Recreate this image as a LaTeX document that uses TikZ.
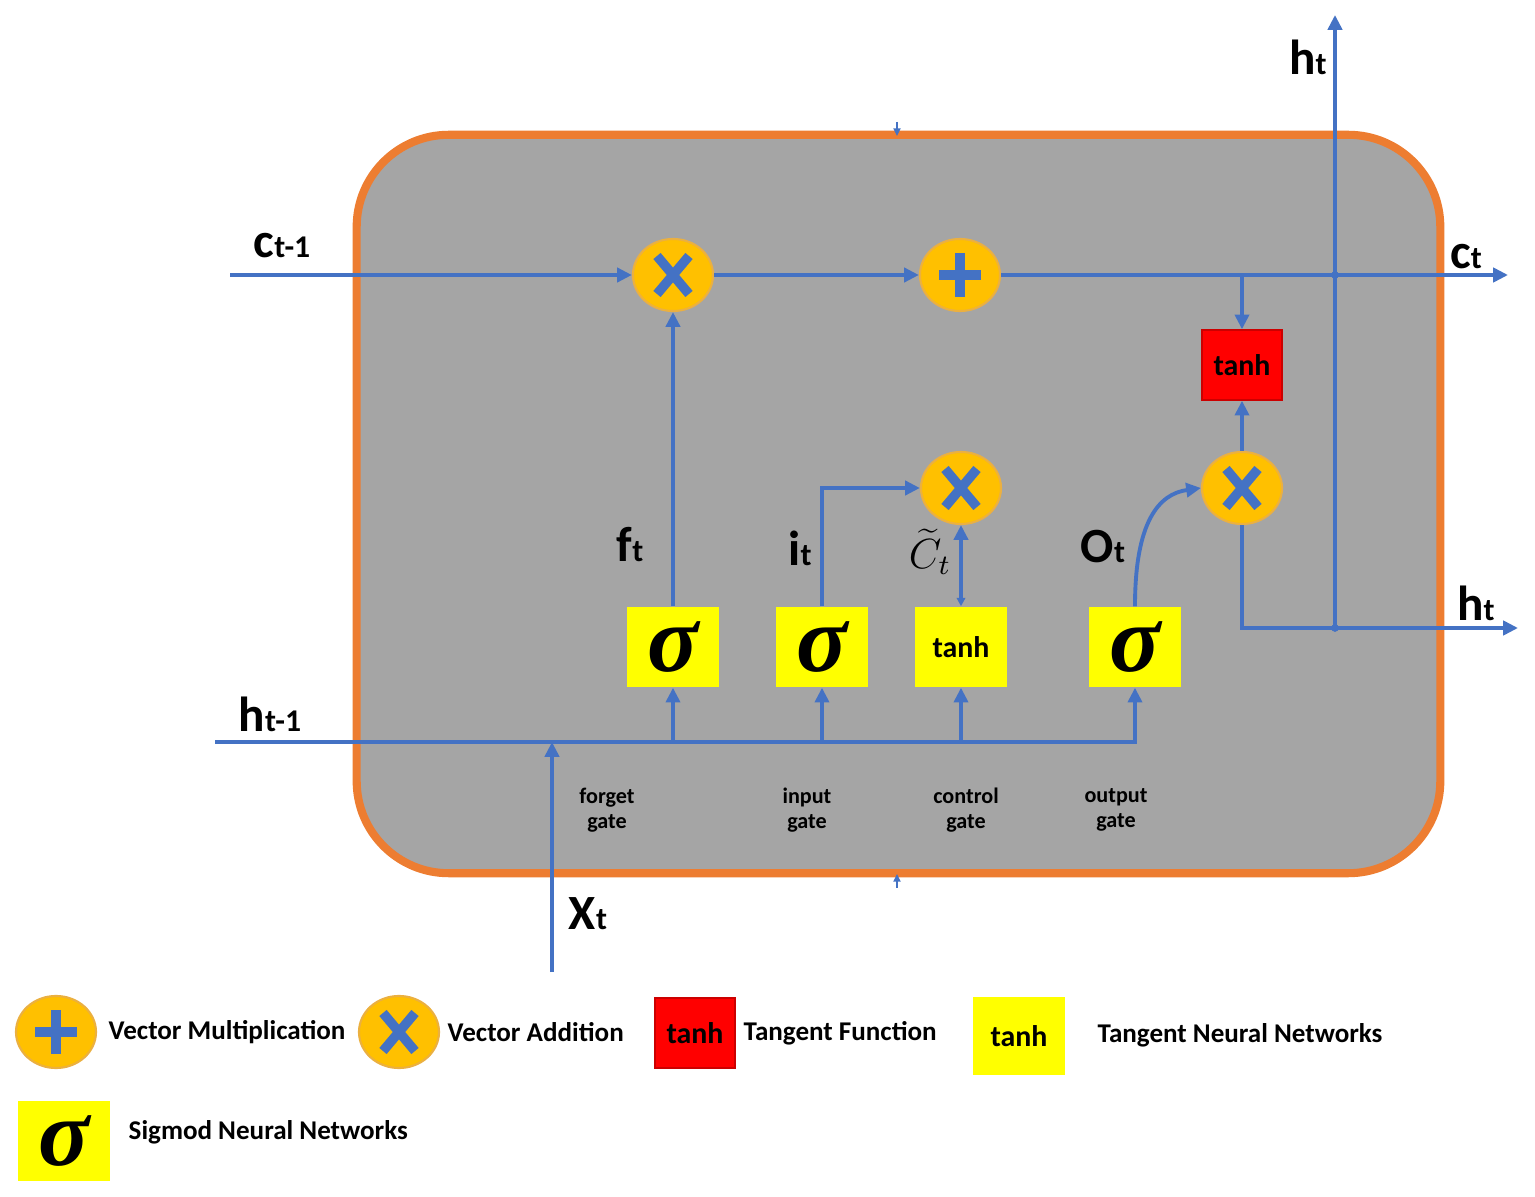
\documentclass[tikz,border=0pt]{standalone}
\usepackage{fontspec}
\setmainfont{Carlito}
\newfontfamily\sigfont{Liberation Serif}
\usetikzlibrary{shapes.geometric,arrows.meta}
\definecolor{lblue}{HTML}{4472C4}
\definecolor{cellgray}{HTML}{A5A5A5}
\definecolor{cellorange}{HTML}{ED7D31}
\definecolor{opfill}{HTML}{FFC000}
\definecolor{opedge}{HTML}{EBB040}
\definecolor{ybox}{HTML}{FFFF00}
\definecolor{rbox}{HTML}{FF0000}
\newcommand\lab[2]{{\fontsize{14}{16}\selectfont\bfseries #1{\fontsize{9}{10}\selectfont #2}}}
\newcommand\sig{{\sigfont\fontsize{27}{27}\selectfont\bfseries\itshape σ}}
\tikzset{
  bl/.style={draw=lblue, line width=1.1pt},
  arr/.style={bl, -{Triangle[length=4.2pt,width=4pt]}},
  tinyarr/.style={draw=lblue, line width=0.5pt, -{Triangle[length=2.2pt,width=2pt]}},
  opc/.style={ellipse, fill=opfill, draw=opedge, line width=0.6pt, minimum width=0.80cm, minimum height=0.72cm, inner sep=0pt},
  xmark/.style={opc, path picture={\draw[lblue, line width=2.7pt]
     ([shift={(-16,-19)}]path picture bounding box.center) -- ([shift={(16,19)}]path picture bounding box.center)
     ([shift={(-16,19)}]path picture bounding box.center) -- ([shift={(16,-19)}]path picture bounding box.center);}},
  pmark/.style={opc, path picture={\draw[lblue, line width=2.8pt]
     ([shift={(-21,0)}]path picture bounding box.center) -- ([shift={(21,0)}]path picture bounding box.center)
     ([shift={(0,-22)}]path picture bounding box.center) -- ([shift={(0,22)}]path picture bounding box.center);}},
  ygate/.style={rectangle, fill=ybox, minimum width=0.92cm, minimum height=0.80cm, inner sep=0pt},
  rgate/.style={rectangle, fill=rbox, draw=rbox!80!black, line width=0.4pt, minimum width=0.80cm, minimum height=0.70cm, inner sep=0pt},
  tanhtxt/.style={font=\fontsize{8.5}{9}\selectfont\bfseries},
  gatetxt/.style={font=\fontsize{6.3}{7.2}\selectfont\bfseries, align=center},
  legtxt/.style={anchor=west, inner sep=0pt, font=\fontsize{7.7}{9}\selectfont\bfseries},
  cell/.style={rectangle, fill=cellgray, draw=cellorange, line width=2.3pt, rounded corners=0.92cm, minimum width=10.83cm, minimum height=7.38cm},
  jdot/.style={circle, fill=lblue, inner sep=0pt, minimum size=2.2pt},
}
\begin{document}
\begin{tikzpicture}[x=0.01cm,y=-0.01cm]
\useasboundingbox[fill=white] (0,0) rectangle (1535,1197);
% cell
\node[cell] (cell) at (898.5,504) {};
\draw[tinyarr] (897,122) -- (897,136);
\draw[tinyarr] (897,888) -- (897,874);
% operators
\node[xmark] (m1) at (673,275) {};
\node[pmark] (a1) at (960,275) {};
\node[xmark] (m2) at (961,488) {};
\node[xmark] (m3) at (1242,488) {};
\node[rgate, tanhtxt] (th) at (1242,365) {tanh};
% gates
\node[ygate] (f) at (673,647) {\sig};
\node[ygate] (i) at (822,647) {\sig};
\node[ygate, tanhtxt] (g) at (961,647) {tanh};
\node[ygate] (o) at (1135,647) {\sig};
% free ends
\coordinate (cin) at (230,275);
\coordinate (cout) at (1508,275);
\coordinate (hin) at (215,742);
\coordinate (hout) at (1518,628);
\coordinate (htop) at (1335,15);
\coordinate (xin) at (552,972);
% cell state line
\draw[arr] (cin) -- (m1);
\draw[arr] (m1) -- (a1);
\draw[arr] (a1) -- (cout);
\draw[arr] (th |- a1) -- (th.north);
\draw[arr] (m3) -- (th.south);
\draw[arr] (m3.south) |- (hout);
\draw[arr] (htop |- hout) -- (htop);
\node[jdot] at (htop |- a1) {};
\node[jdot] at (htop |- hout) {};
% gate outputs
\draw[arr] (f.north) -- (m1.south);
\draw[arr] (i.north) |- (m2.west);
\draw[bl, {Triangle[length=2.4pt,width=2.4pt]}-{Triangle[length=4.2pt,width=4pt]}] (g.north) -- (m2.south);
\draw[arr] (o.north) .. controls +(0,-85) and +(-42,6) .. (m3.west);
% inputs
\draw[arr] (hin) -| (o.south);
\draw[arr] (f |- hin) -- (f.south);
\draw[arr] (i |- hin) -- (i.south);
\draw[arr] (g |- hin) -- (g.south);
\draw[arr] (xin) -- (xin |- hin);
% labels
\node (lc0) at (282,246) {\lab{c}{t-1}};
\node (lc1) at (1466,257) {\lab{c}{t}};
\node (lh1) at (1308,57) {\lab{h}{t}};
\node (lh2) at (1476,603) {\lab{h}{t}};
\node (lh0) at (270,714) {\lab{h}{t-1}};
\node (lx) at (588,914) {\lab{X}{t}};
\node (lf) at (630,545) {\lab{f}{t}};
\node (li) at (800,548) {\lab{i}{t}};
\node[inner sep=0pt] (lct) at (930,552) {\fontsize{11.5}{13}\selectfont$\widetilde{C}_t$};
\node (lo) at (1103,547) {\lab{O}{t}};
\node[gatetxt] (gf) at (607,810) {forget\\gate};
\node[gatetxt] (gi) at (807,810) {input\\gate};
\node[gatetxt] (gc) at (966,810) {control\\gate};
\node[gatetxt] (go) at (1116,810) {output\\gate};
% legend
\node[pmark] (lg1) at (56,1032) {};
\node[legtxt] (lt1) at (108,1032) {Vector Multiplication};
\node[xmark] (lg2) at (399,1032) {};
\node[legtxt] (lt2) at (447,1032) {Vector Addition};
\node[rgate, tanhtxt] (lg3) at (695,1033) {tanh};
\node[legtxt] (lt3) at (743,1033) {Tangent Function};
\node[ygate, tanhtxt, minimum height=0.78cm] (lg4) at (1019,1036) {tanh};
\node[legtxt] (lt4) at (1097,1035) {Tangent Neural Networks};
\node[ygate] (lg5) at (64,1141) {\sig};
\node[legtxt] (lt5) at (128,1132) {Sigmod Neural Networks};
\end{tikzpicture}
\end{document}
